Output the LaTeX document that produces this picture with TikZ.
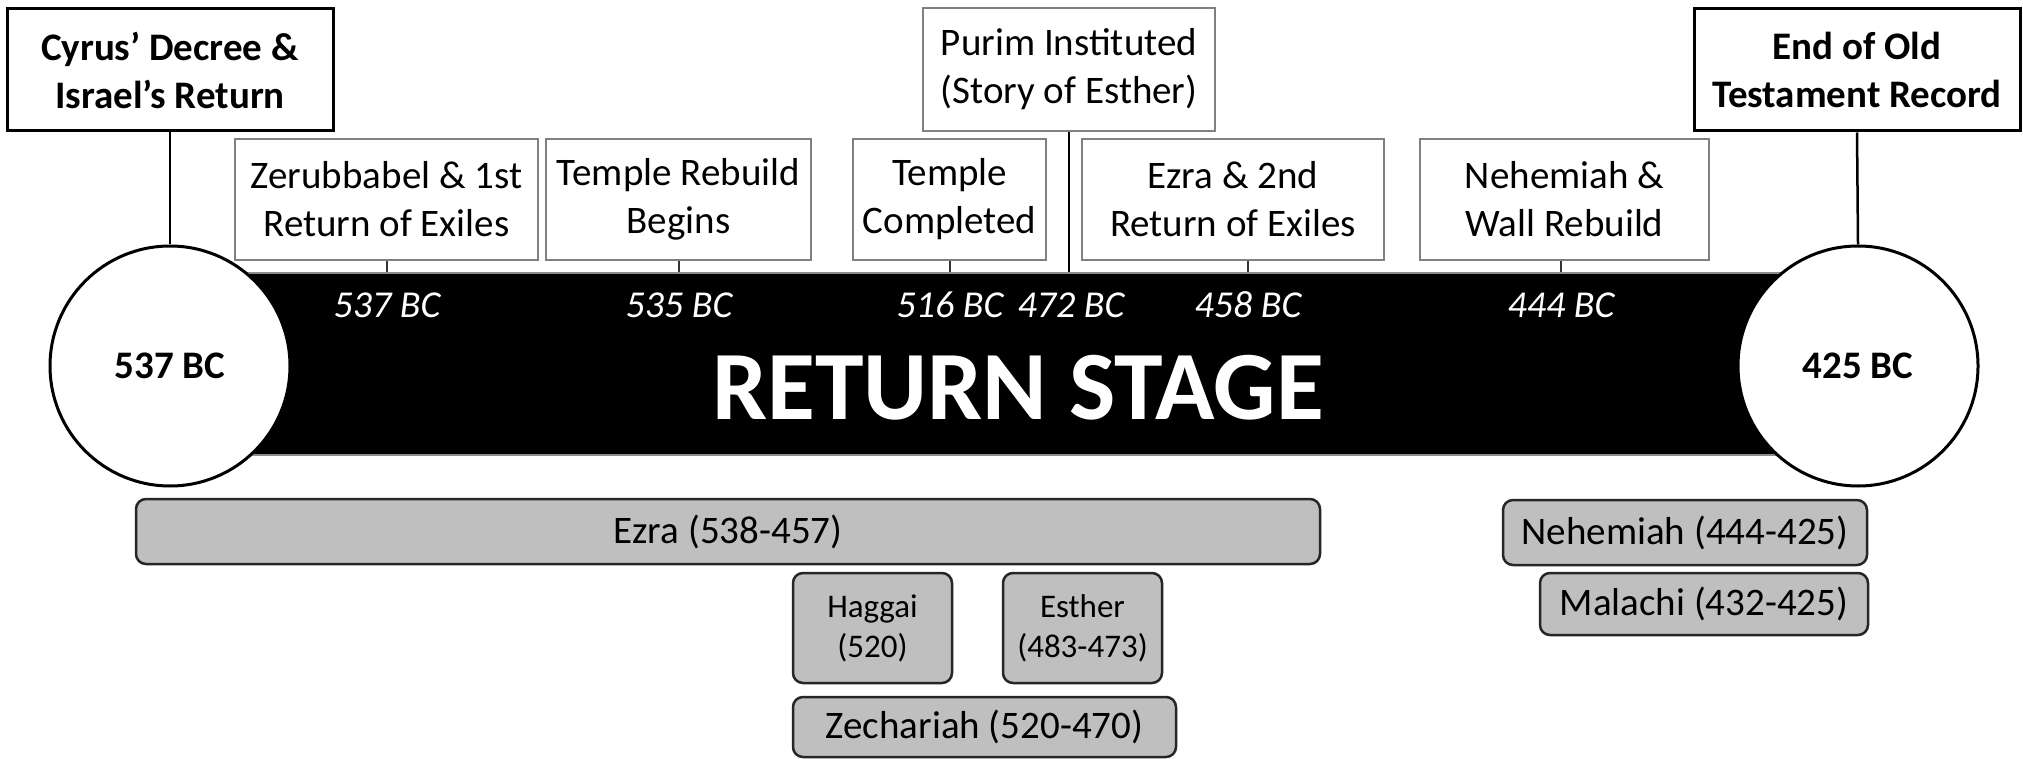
\documentclass[tikz,border=0pt]{standalone}
\usepackage{fontspec}
\setmainfont{Carlito}
\begin{document}
\begin{tikzpicture}[x=1pt,y=-1pt,
  evt/.style={draw=black!50, line width=1.5pt, fill=white, minimum height=121pt, inner sep=0pt, align=center, font=\fontsize{39}{48}\selectfont},
  key/.style={draw=black, line width=3pt, fill=white, minimum width=326pt, minimum height=122pt, inner sep=0pt, align=center, font=\bfseries\fontsize{39}{48}\selectfont},
  endc/.style={circle, draw=black, line width=3pt, fill=white, minimum size=240pt, inner sep=0pt, font=\bfseries\fontsize{39}{47}\selectfont},
  book/.style={draw=black!85, line width=2.5pt, fill=black!25, rounded corners=10pt, inner sep=0pt, align=center, font=\fontsize{39}{47}\selectfont},
  smallbook/.style={book, font=\fontsize{33}{40}\selectfont},
  datelbl/.style={text=white, font=\itshape\fontsize{38}{46}\selectfont, inner sep=0pt},
  link/.style={line width=2.5pt},
  tickline/.style={line width=2pt, draw=black!80}]
\useasboundingbox (0,0) rectangle (2023,759);
\fill[white] (0,0) rectangle (2023,759);

% bar
\node[draw=black!45, line width=1.5pt, fill=black, minimum width=1688pt, minimum height=182pt, inner sep=0pt] (bar) at (1014,364) {};
\node[text=white, font=\bfseries\fontsize{98}{110}\selectfont, inner sep=0pt] (title) at (1018,388) {RETURN STAGE};

% end circles
\node[endc] (lc) at (170,366) {537 BC};
\node[endc] (rc) at (1858,366) {425 BC};

% key boxes
\node[key] (cyrus) at (170,70) {Cyrus’ Decree \&\\Israel’s Return};
\node[key] (endot) at (1857,70) {End of Old\\Testament Record};
\draw[link] (cyrus.south) -- (lc.north);
\draw[link] (endot.south) -- (rc.north);

% event boxes
\node[evt, minimum width=303pt] (zer) at (386.5,199.5) {Zerubbabel \& 1st\\Return of Exiles};
\node[evt, minimum width=265pt] (tr) at (678.5,199.5) {Temple Rebuild\\Begins};
\node[evt, minimum width=193pt] (tc) at (949.5,199.5) {Temple\\Completed};
\node[evt, minimum width=292pt, minimum height=123pt] (purim) at (1069,69.5) {Purim Instituted\\(Story of Esther)};
\node[evt, minimum width=302pt] (ez2) at (1233,199.5) {Ezra \& 2nd\\Return of Exiles};
\node[evt, minimum width=289pt] (neh) at (1564.5,199.5) {Nehemiah \&\\Wall Rebuild};

% dates
\node[datelbl] (d537) at (387,305) {537 BC};
\node[datelbl] (d535) at (679,305) {535 BC};
\node[datelbl] (d516) at (950,305) {516 BC};
\node[datelbl] (d472) at (1071,305) {472 BC};
\node[datelbl] (d458) at (1248,305) {458 BC};
\node[datelbl] (d444) at (1561,305) {444 BC};

% ticks
\draw[tickline] (zer.south) -- (zer.south |- bar.north);
\draw[tickline] (tr.south) -- (tr.south |- bar.north);
\draw[tickline] (tc.south) -- (tc.south |- bar.north);
\draw[link] (purim.south) -- (purim.south |- bar.north);
\draw[tickline] (d458 |- ez2.south) -- (d458 |- bar.north);
\draw[tickline] (d444 |- neh.south) -- (d444 |- bar.north);

% books
\node[book, minimum width=1184pt, minimum height=65pt] (ezra) at (728,531.5) {Ezra (538-457)};
\node[smallbook, minimum width=159pt, minimum height=110pt] (hag) at (872.5,628) {Haggai\\(520)};
\node[smallbook, minimum width=159pt, minimum height=110pt] (est) at (1082.5,628) {Esther\\(483-473)};
\node[book, minimum width=383pt, minimum height=60pt] (zech) at (984.5,727) {Zechariah (520-470)};
\node[book, minimum width=364pt, minimum height=65pt] (nehb) at (1685,532.5) {Nehemiah (444-425)};
\node[book, minimum width=328pt, minimum height=62pt] (mal) at (1704,604) {Malachi (432-425)};
\end{tikzpicture}
\end{document}
